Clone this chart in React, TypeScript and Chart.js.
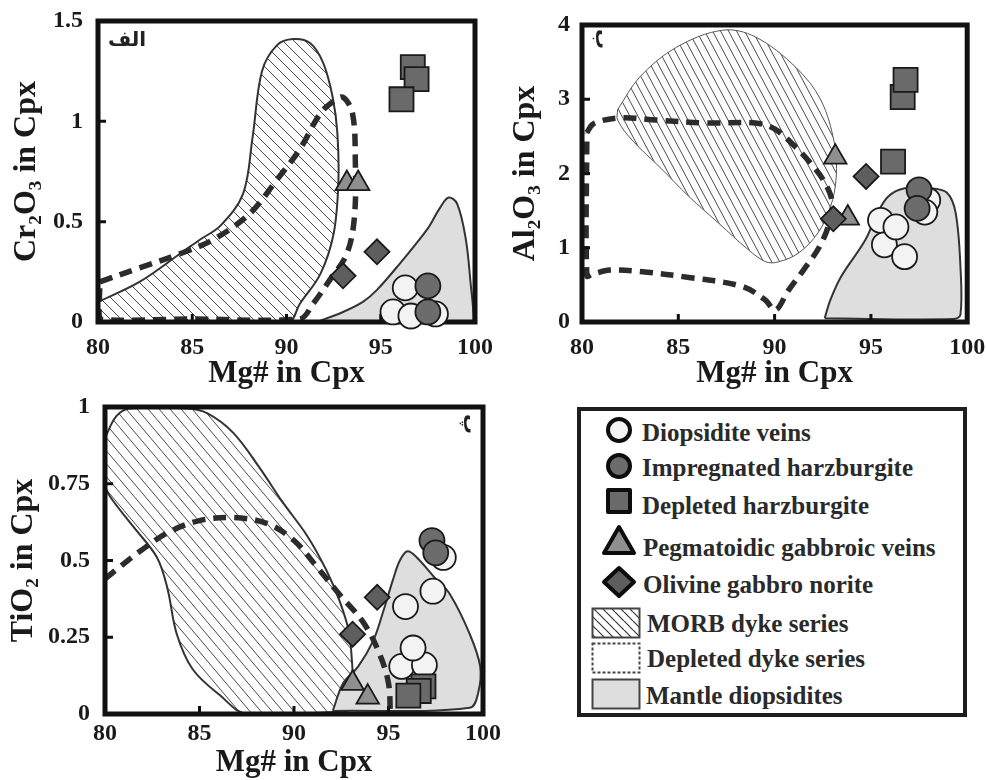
import React, { useEffect, useRef } from 'react';
import { Chart, registerables } from 'chart.js';
Chart.register(...registerables);

type P = [number, number];
const FONT = '"Liberation Serif", "Times New Roman", serif';

// ---------- shared axis ticks ----------
const xTicks = [80, 85, 90, 95, 100];
const yTicksA = [0, 0.5, 1, 1.5];
const yTicksB = [0, 1, 2, 3, 4];
const yTicksC = [0, 0.25, 0.5, 0.75, 1];

// ---------- panel A (Cr2O3) ----------
const morbA: P[] = [[80, 0.1], [82.2, 0.2], [84.35, 0.34], [85.4, 0.41], [86.5, 0.48], [87.7, 0.64], [88.2, 0.92], [88.7, 1.25], [89.5, 1.38], [90.35, 1.41], [91.25, 1.39], [91.95, 1.29], [92.45, 1.12], [92.7, 0.94], [92.75, 0.69], [92.5, 0.44], [91.8, 0.24], [90.7, 0.09], [90.1, 0], [85, 0], [80, 0], [80, 0.1]];
const dashedA: P[] = [[80.1, 0.2], [82.2, 0.27], [84.35, 0.34], [86.1, 0.41], [88.05, 0.54], [89.5, 0.71], [90.7, 0.86], [91.8, 1.04], [92.5, 1.1], [93.0, 1.12], [93.5, 1.04], [93.65, 0.81], [93.6, 0.52], [93.2, 0.34], [92.3, 0.21], [91.4, 0.09], [90.7, 0.015], [85, 0.015], [80.1, 0.015], [80.1, 0.2]];
const greyA: P[] = [[91.6, 0], [93.0, 0.05], [94.05, 0.1], [94.8, 0.16], [96.0, 0.29], [97.45, 0.46], [98.15, 0.57], [98.6, 0.62], [99.05, 0.59], [99.5, 0.42], [99.75, 0.21], [99.9, 0], [91.6, 0]];
const diopA: P[] = [[95.65, 0.05], [96.3, 0.17], [96.6, 0.03], [97.9, 0.04]];
const impA: P[] = [[97.5, 0.18], [97.5, 0.05]];
const depA: P[] = [[96.7, 1.27], [96.9, 1.21], [96.1, 1.11]];
const pegA: P[] = [[93.2, 0.69], [93.8, 0.69]];
const olvA: P[] = [[93.0, 0.23], [94.8, 0.35]];

// ---------- panel B (Al2O3) ----------
const morbB: P[] = [[81.85, 2.86], [83.0, 3.3], [84.9, 3.7], [87.3, 3.93], [89.0, 3.84], [91.1, 3.43], [92.4, 2.99], [93.1, 2.41], [93.2, 1.95], [92.9, 1.55], [92.25, 1.2], [91.25, 0.93], [90.2, 0.81], [89.55, 0.81], [88.65, 0.97], [87.1, 1.33], [85.55, 1.69], [84.1, 2.07], [82.6, 2.45], [81.85, 2.72], [81.85, 2.86]];
const dashedB: P[] = [[80.25, 2.55], [80.6, 2.67], [81.95, 2.75], [83.85, 2.72], [86.45, 2.68], [89.0, 2.68], [90.0, 2.6], [91.0, 2.38], [91.9, 2.13], [92.6, 1.88], [93.0, 1.6], [92.8, 1.3], [92.3, 1.0], [91.5, 0.7], [90.7, 0.42], [90.05, 0.16], [89.5, 0.3], [88.3, 0.48], [85.55, 0.6], [83.0, 0.68], [81.45, 0.7], [80.5, 0.64], [80.25, 0.62], [80.25, 2.55]];
const greyB: P[] = [[92.6, 0.05], [92.9, 0.3], [93.45, 0.61], [94.7, 1.1], [95.35, 1.47], [95.9, 1.69], [96.75, 1.8], [98.1, 1.8], [98.95, 1.74], [99.4, 1.47], [99.65, 0.74], [99.65, 0.1], [99.3, 0.04], [92.6, 0.05]];
const diopB: P[] = [[97.95, 1.64], [97.8, 1.48], [95.5, 1.37], [95.7, 1.04], [96.75, 0.88], [96.3, 1.28]];
const impB: P[] = [[97.5, 1.78], [97.4, 1.53]];
const depB: P[] = [[96.65, 3.03], [96.8, 3.26], [96.15, 2.16]];
const pegB: P[] = [[93.15, 2.22], [93.8, 1.4]];
const olvB: P[] = [[94.75, 1.96], [93.05, 1.39]];

// ---------- panel C (TiO2) ----------
const morbC: P[] = [[80, 0.9], [80.6, 0.97], [81.3, 0.995], [84.3, 0.995], [85.4, 0.98], [86.8, 0.915], [88.2, 0.8], [89.4, 0.69], [90.7, 0.58], [91.7, 0.47], [92.4, 0.37], [92.9, 0.27], [93.05, 0.185], [93.1, 0.09], [92.8, 0.01], [87.5, 0], [86.1, 0.06], [84.65, 0.145], [83.8, 0.26], [83.3, 0.41], [82.75, 0.51], [81.5, 0.61], [80.25, 0.71], [80, 0.75], [80, 0.9]];
const dashedC: P[] = [[80, 0.44], [80.8, 0.48], [81.85, 0.53], [83.3, 0.59], [85.0, 0.63], [86.8, 0.64], [88.6, 0.62], [90.0, 0.565], [91.2, 0.48], [92.4, 0.39], [93.65, 0.3], [94.5, 0.2], [95.0, 0.1], [95.1, 0]];
const greyC: P[] = [[92.05, 0.01], [92.6, 0.1], [93.4, 0.155], [94.2, 0.24], [94.7, 0.33], [95.25, 0.44], [95.6, 0.5], [96.0, 0.53], [96.5, 0.51], [97.5, 0.44], [98.25, 0.39], [99.3, 0.26], [99.85, 0.155], [99.75, 0.07], [99.3, 0.02], [92.05, 0.01]];
const diopC: P[] = [[97.9, 0.51], [95.9, 0.35], [97.35, 0.4], [95.7, 0.155], [96.9, 0.16], [96.3, 0.215]];
const impC: P[] = [[97.3, 0.565], [97.5, 0.525]];
const depC: P[] = [[96.85, 0.09], [96.6, 0.075], [96.05, 0.06]];
const pegC: P[] = [[93.1, 0.1], [93.9, 0.055]];
const olvC: P[] = [[93.1, 0.26], [94.4, 0.38]];

// ---------- legend ----------
const legendLabels = ['Diopsidite veins', 'Impregnated harzburgite', 'Depleted harzburgite', 'Pegmatoidic gabbroic veins', 'Olivine gabbro norite', 'MORB dyke series', 'Depleted dyke series', 'Mantle diopsidites'];

const C_WHITE = '#f3f3f3';
const C_IMP = '#6c6c6c';
const C_DEP = '#6a6a6a';
const C_PEG = '#8f8f8f';
const C_OLV = '#5e5e5e';
const C_GREY = '#dedede';
const C_INK = '#1a1a1a';

interface Panel {
  yTitle: string; yTicks: number[]; yMax: number;
  morb: P[]; dashed: P[]; grey: P[];
  diop: P[]; imp: P[]; dep: P[]; peg: P[]; olv: P[];
  pad: { left: number; top: number; right: number; bottom: number };
  yW: number; xH: number; xTickPad: number; yTickPad: number;
  hw: number; hh: number; morbW: number; morbC: string;
  label: string; lx: number; ly: number; rot: number;
}

const panels: Panel[] = [
  { yTitle: 'Cr\u2082O\u2083 in Cpx', yTicks: yTicksA, yMax: 1.5, morb: morbA, dashed: dashedA, grey: greyA, diop: diopA, imp: impA, dep: depA, peg: pegA, olv: olvA,
    pad: { left: 11, top: 21, right: 511, bottom: 390.5 }, yW: 87, xH: 67.5, xTickPad: 13.5, yTickPad: 15, hw: 11, hh: 11, morbW: 2, morbC: '#333',
    label: '\u0627\u0644\u0641', lx: 10, ly: 20, rot: 0 },
  { yTitle: 'Al\u2082O\u2083 in Cpx', yTicks: yTicksB, yMax: 4, morb: morbB, dashed: dashedB, grey: greyB, diop: diopB, imp: impB, dep: depB, peg: pegB, olv: olvB,
    pad: { left: 509.5, top: 25, right: 16, bottom: 390.5 }, yW: 72.5, xH: 67.5, xTickPad: 13.5, yTickPad: 12, hw: 8, hh: 15, morbW: 1, morbC: '#555',
    label: '\u0628', lx: 19, ly: 14, rot: 1 },
  { yTitle: 'TiO\u2082 in Cpx', yTicks: yTicksC, yMax: 1, morb: morbC, dashed: dashedC, grey: greyC, diop: diopC, imp: impC, dep: depC, peg: pegC, olv: olvC,
    pad: { left: 8, top: 407, right: 503, bottom: 1.5 }, yW: 97, xH: 64.5, xTickPad: 8, yTickPad: 15, hw: 11, hh: 13, morbW: 2, morbC: '#333',
    label: '\u067E', lx: -14, ly: 17, rot: 1 },
];

function makeHatch(w: number, h: number): CanvasPattern | string {
  const c = document.createElement('canvas');
  c.width = w; c.height = h;
  const g = c.getContext('2d');
  if (!g) return '#ccc';
  g.strokeStyle = '#4a4a4a';
  g.lineWidth = 1;
  g.beginPath();
  for (let k = -1; k <= 1; k++) { g.moveTo(k * w, 0); g.lineTo(k * w + w, h); }
  g.stroke();
  return g.createPattern(c, 'repeat') || '#ccc';
}

const pts = (a: P[]) => a.map(([x, y]) => ({ x, y }));

function marker(label: string, data: P[], style: string, radius: number, color: string, order: number) {
  return {
    label, data: pts(data), pointStyle: style, pointRadius: radius, pointHoverRadius: radius,
    pointBackgroundColor: color, pointBorderColor: C_INK, pointBorderWidth: 1.8,
    backgroundColor: color, borderColor: C_INK, showLine: false, order, clip: false,
  };
}

const framePlugin = {
  id: 'frame',
  afterDatasetDraw(chart: any, args: any) {
    const ds = chart.data.datasets[args.index];
    if (!ds || !ds.frameAfter) return;
    const { ctx, chartArea } = chart;
    const { left, top, right, bottom } = chartArea;
    const xs = chart.scales.x, ys = chart.scales.y;
    ctx.save();
    ctx.strokeStyle = '#111';
    ctx.lineWidth = 5;
    ctx.strokeRect(left, top, right - left, bottom - top);
    ctx.lineWidth = 3;
    ctx.beginPath();
    xs.ticks.forEach((t: any) => {
      if (t.value <= xs.min || t.value >= xs.max) return;
      const px = xs.getPixelForValue(t.value);
      ctx.moveTo(px, bottom); ctx.lineTo(px, bottom - 8);
    });
    ys.ticks.forEach((t: any) => {
      if (t.value <= ys.min || t.value >= ys.max) return;
      const py = ys.getPixelForValue(t.value);
      ctx.moveTo(left, py); ctx.lineTo(left + 8, py);
    });
    ctx.stroke();
    ctx.restore();
  },
  afterDraw(chart: any, _a: any, opts: any) {
    if (!opts || !opts.label) return;
    const { ctx, chartArea } = chart;
    const x = opts.lx >= 0 ? chartArea.left + opts.lx : chartArea.right + opts.lx;
    const y = chartArea.top + opts.ly;
    ctx.save();
    ctx.fillStyle = '#222';
    ctx.font = 'bold 20px "DejaVu Sans", sans-serif';
    ctx.textBaseline = 'middle';
    ctx.translate(x, y);
    if (opts.rot) { ctx.rotate(Math.PI / 2); ctx.textAlign = 'center'; }
    else ctx.textAlign = 'left';
    ctx.fillText(opts.label, 0, 0);
    ctx.restore();
  },
};

function buildConfig(p: Panel): any {
  const hatch = makeHatch(p.hw, p.hh);
  const tickFont = { family: FONT, size: 24, weight: 'bold' as const, lineHeight: 1 };
  const xTitleFont = { family: FONT, size: 31, weight: 'bold' as const, lineHeight: 1 };
  const yTitleFont = { family: FONT, size: 32, weight: 'bold' as const, lineHeight: 1 };
  return {
    type: 'scatter',
    data: {
      datasets: [
        marker(legendLabels[4], p.olv, 'rectRot', 12.5, C_OLV, 1),
        marker(legendLabels[2], p.dep, 'rect', 17, C_DEP, 2),
        marker(legendLabels[1], p.imp, 'circle', 12.5, C_IMP, 3),
        marker(legendLabels[0], p.diop, 'circle', 12.5, C_WHITE, 4),
        marker(legendLabels[3], p.peg, 'triangle', 13, C_PEG, 5),
        { type: 'line', label: legendLabels[6], data: pts(p.dashed), showLine: true, pointRadius: 0, tension: 0.35,
          borderColor: '#2c2c2c', borderWidth: 5.5, borderDash: [13, 8], fill: false, order: 6, frameAfter: true },
        { type: 'line', label: legendLabels[7], data: pts(p.grey), showLine: true, pointRadius: 0, tension: 0.35,
          borderColor: '#333', borderWidth: 2, backgroundColor: C_GREY, fill: 'shape', order: 7 },
        { type: 'line', label: legendLabels[5], data: pts(p.morb), showLine: true, pointRadius: 0, tension: 0.35,
          borderColor: p.morbC, borderWidth: p.morbW, backgroundColor: hatch, fill: 'shape', order: 8 },
      ],
    },
    options: {
      responsive: false,
      animation: false,
      events: [],
      layout: { padding: p.pad },
      plugins: {
        legend: { display: false },
        tooltip: { enabled: false },
        frame: { label: p.label, lx: p.lx, ly: p.ly, rot: p.rot },
      },
      scales: {
        x: {
          type: 'linear', min: 80, max: 100,
          afterBuildTicks: (s: any) => { s.ticks = xTicks.map((v) => ({ value: v })); },
          ticks: { font: tickFont, color: C_INK, padding: p.xTickPad, maxRotation: 0, autoSkip: false, callback: (v: any) => String(v) },
          grid: { display: false, drawTicks: false },
          border: { display: false },
          title: { display: true, text: 'Mg# in Cpx', font: xTitleFont, color: C_INK, padding: 0 },
          afterFit: (s: any) => { s.height = p.xH; s.paddingLeft = 0; s.paddingRight = 0; },
        },
        y: {
          type: 'linear', min: 0, max: p.yMax,
          afterBuildTicks: (s: any) => { s.ticks = p.yTicks.map((v) => ({ value: v })); },
          ticks: { font: tickFont, color: C_INK, padding: p.yTickPad, autoSkip: false, callback: (v: any) => String(v) },
          grid: { display: false, drawTicks: false },
          border: { display: false },
          title: { display: true, text: p.yTitle, font: yTitleFont, color: C_INK, padding: 0 },
          afterFit: (s: any) => { s.width = p.yW; s.paddingTop = 0; s.paddingBottom = 0; },
        },
      },
    },
    plugins: [framePlugin],
  };
}

function PanelChart({ p }: { p: Panel }) {
  const ref = useRef<HTMLCanvasElement>(null);
  useEffect(() => {
    if (!ref.current) return;
    const chart = new Chart(ref.current, buildConfig(p));
    return () => chart.destroy();
  }, [p]);
  return <canvas ref={ref} width={986} height={780} style={{ position: 'absolute', left: 0, top: 0 }} />;
}

// ---------- legend (HTML) ----------
const LEFT = 577, TOP = 407;
const legendRows = [
  { cy: 432.5, sy: 430, tx: 642, sym: 'c1' },
  { cy: 467.5, sy: 466, tx: 642, sym: 'c2' },
  { cy: 506, sy: 501, tx: 642, sym: 'sq' },
  { cy: 548, sy: 540, tx: 643, sym: 'tri' },
  { cy: 585, sy: 582, tx: 643, sym: 'dia' },
  { cy: 624, sy: 622.5, tx: 647, sym: 'morb' },
  { cy: 659, sy: 658, tx: 647, sym: 'dep' },
  { cy: 696, sy: 694, tx: 646, sym: 'man' },
];

function Symbol({ kind }: { kind: string }) {
  const sw = 4;
  switch (kind) {
    case 'c1': return <svg width={40} height={40}><circle cx={20} cy={20} r={11} fill={C_WHITE} stroke="#0d0d0d" strokeWidth={sw} /></svg>;
    case 'c2': return <svg width={40} height={40}><circle cx={20} cy={20} r={11} fill={C_IMP} stroke="#0d0d0d" strokeWidth={sw} /></svg>;
    case 'sq': return <svg width={40} height={40}><rect x={9} y={9} width={22} height={22} fill={C_DEP} stroke="#0d0d0d" strokeWidth={sw} strokeLinejoin="round" /></svg>;
    case 'tri': return <svg width={40} height={40}><polygon points="20,7 35,33 5,33" fill={C_PEG} stroke="#0d0d0d" strokeWidth={sw} strokeLinejoin="round" /></svg>;
    case 'dia': return <svg width={40} height={40}><polygon points="20,6 35,20 20,34 5,20" fill={C_OLV} stroke="#0d0d0d" strokeWidth={sw} strokeLinejoin="round" /></svg>;
    case 'morb': return (
      <svg width={56} height={40}>
        <defs>
          <pattern id="lgHatch" width="9" height="9" patternUnits="userSpaceOnUse">
            <path d="M-9,0 L0,9 M0,0 L9,9 M9,0 L18,9" stroke="#333" strokeWidth="1.2" />
          </pattern>
        </defs>
        <rect x={4.5} y={5.5} width={47} height={29} fill="url(#lgHatch)" stroke="#444" strokeWidth={2} />
      </svg>
    );
    case 'dep': return <svg width={56} height={40}><rect x={4.5} y={5.5} width={47} height={29} fill="#fff" stroke="#444" strokeWidth={2} strokeDasharray="3 2" /></svg>;
    default: return <svg width={56} height={40}><rect x={4.5} y={5.5} width={47} height={29} fill={C_GREY} stroke="#444" strokeWidth={2} /></svg>;
  }
}

function Legend() {
  return (
    <div style={{ position: 'absolute', left: LEFT, top: TOP, width: 390, height: 310, boxSizing: 'border-box', border: '4px solid #1e1e1e', background: '#fff' }}>
      {legendRows.map((r, i) => {
        const isBox = r.sym === 'morb' || r.sym === 'dep' || r.sym === 'man';
        const symLeft = (isBox ? 615.5 - 28 : 618.5 - 20) - LEFT - 4;
        return (
          <React.Fragment key={i}>
            <div style={{ position: 'absolute', left: symLeft, top: r.sy - 20 - TOP - 4, lineHeight: 0 }}>
              <Symbol kind={r.sym} />
            </div>
            <div style={{ position: 'absolute', left: r.tx - LEFT - 4, top: r.cy - 15 - TOP - 4, height: 30, lineHeight: '30px', whiteSpace: 'nowrap', fontFamily: FONT, fontWeight: 'bold', fontSize: 25, color: '#2a2a2a' }}>
              {legendLabels[i]}
            </div>
          </React.Fragment>
        );
      })}
    </div>
  );
}

export default function App() {
  return (
    <div style={{ position: 'absolute', left: 0, top: 0, width: 986, height: 780, background: '#fff', overflow: 'hidden' }}>
      {panels.map((p, i) => <PanelChart key={i} p={p} />)}
      <Legend />
    </div>
  );
}
